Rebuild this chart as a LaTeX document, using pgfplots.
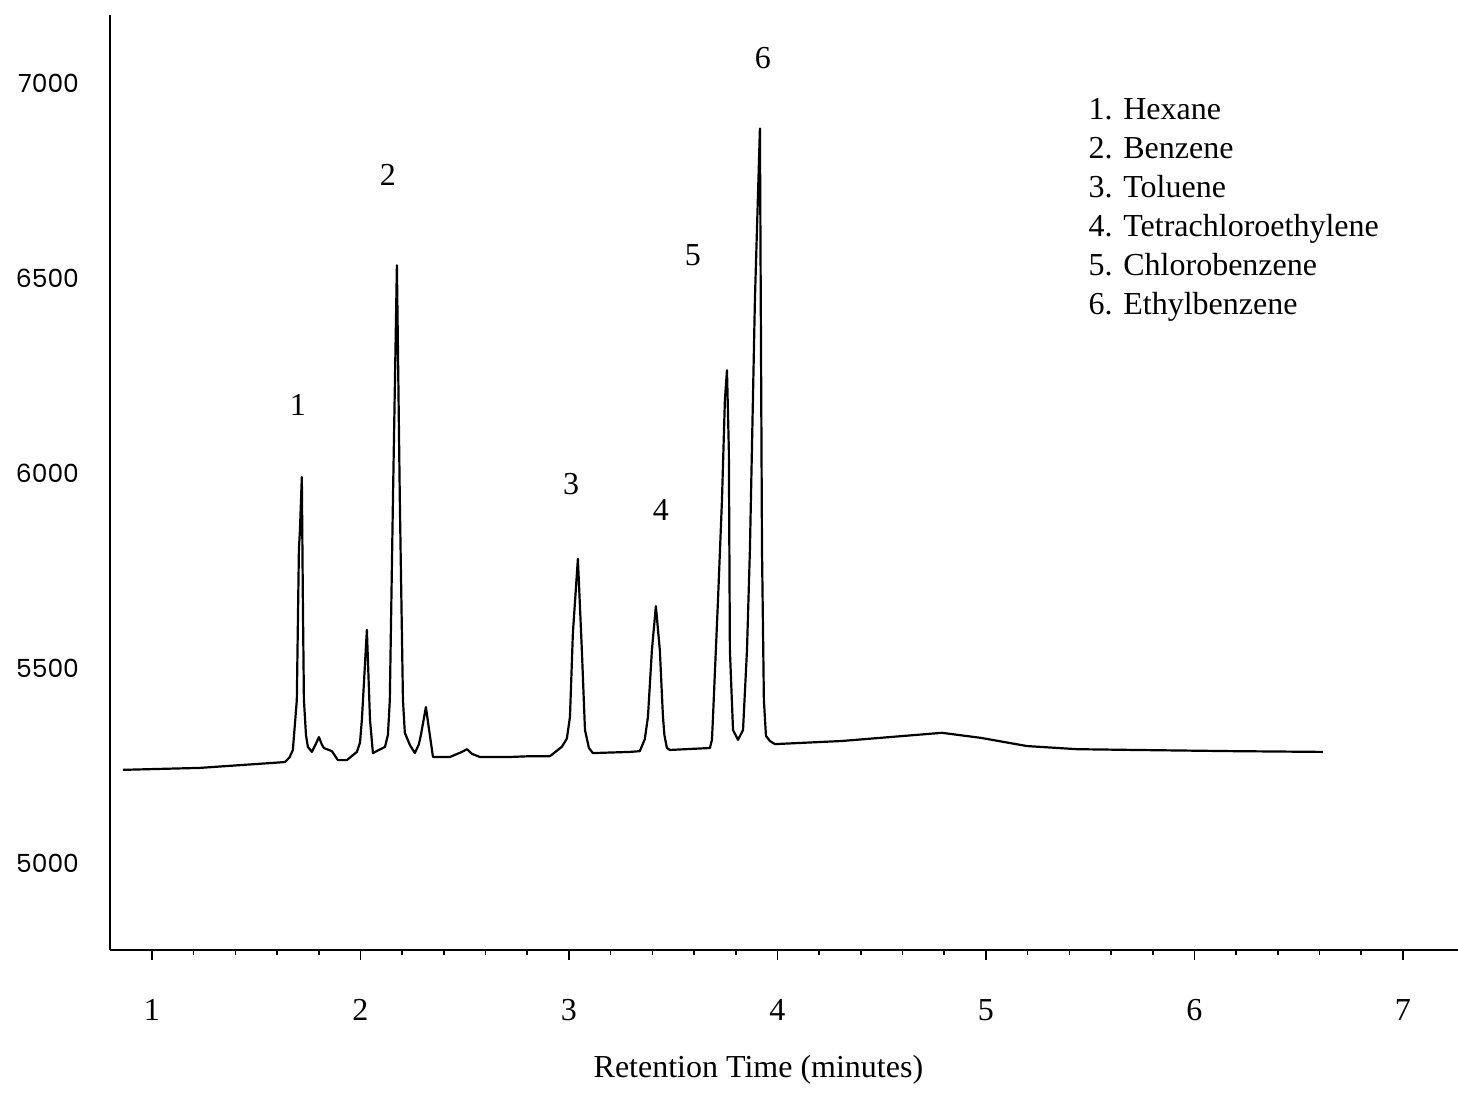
\documentclass[border=0pt]{standalone}
\usepackage{fontspec}
\setmainfont{Liberation Serif}
\newfontfamily\poppins{Poppins}
\usepackage{pgfplots}
\pgfplotsset{compat=1.18}
\begin{document}
\begin{tikzpicture}
\begin{axis}[
  scale only axis, width=674pt, height=467.5pt,
  xmin=0.799, xmax=7.264, ymin=4778, ymax=7176,
  axis lines*=left, axis line style={-, line width=1.3pt},
  xtick={1,2,3,4,5,6,7}, minor x tick num=4, tick align=outside,
  major tick length=5pt, minor tick length=2.5pt,
  every tick/.style={black, line width=0.8pt},
  ytick={5000,5500,6000,6500,7000}, ytick style={draw=none},
  scaled y ticks=false,
  /pgf/number format/assume math mode=true,
  /pgf/number format/1000 sep={},
  xticklabel style={font=\fontsize{16}{19}\selectfont, yshift=-16pt},
  yticklabel style={font=\poppins\fontsize{12.5}{15}\selectfont, xshift=-7pt},
  clip=false,
]
\addplot[black, line width=1.1pt, line join=round] table {
0.861 5240
1.230 5245
1.638 5260
1.660 5272
1.676 5291
1.695 5419
1.705 5804
1.710 5855
1.719 5991
1.724 5676
1.729 5419
1.739 5329
1.748 5299
1.767 5286
1.785 5305
1.801 5324
1.815 5305
1.825 5296
1.863 5288
1.892 5265
1.935 5265
1.983 5286
1.998 5310
2.007 5368
2.031 5599
2.046 5368
2.060 5283
2.118 5299
2.132 5330
2.141 5419
2.156 5932
2.175 6534
2.189 5932
2.204 5419
2.213 5335
2.237 5304
2.261 5283
2.280 5305
2.290 5329
2.314 5401
2.333 5329
2.348 5273
2.429 5273
2.487 5286
2.511 5293
2.535 5281
2.573 5273
2.717 5273
2.813 5275
2.909 5275
2.966 5299
2.990 5320
3.005 5376
3.019 5591
3.043 5781
3.062 5547
3.077 5342
3.096 5296
3.115 5283
3.293 5286
3.340 5288
3.364 5319
3.379 5376
3.398 5547
3.417 5660
3.436 5547
3.451 5376
3.458 5329
3.470 5296
3.484 5291
3.676 5296
3.686 5317
3.691 5376
3.715 5676
3.734 5932
3.748 6188
3.758 6265
3.767 6060
3.772 5547
3.787 5342
3.811 5317
3.835 5342
3.854 5547
3.868 5804
3.892 6445
3.916 6885
3.926 5804
3.935 5419
3.945 5327
3.964 5314
3.988 5306
4.309 5314
4.789 5335
4.976 5322
5.197 5301
5.436 5293
5.715 5291
6.175 5288
6.616 5286
};
\node[font=\fontsize{16}{19}\selectfont] at (axis cs:1.700,6175) {1};
\node[font=\fontsize{16}{19}\selectfont] at (axis cs:2.132,6766) {2};
\node[font=\fontsize{16}{19}\selectfont] at (axis cs:3.010,5973) {3};
\node[font=\fontsize{16}{19}\selectfont] at (axis cs:3.441,5906) {4};
\node[font=\fontsize{16}{19}\selectfont] at (axis cs:3.595,6560) {5};
\node[font=\fontsize{16}{19}\selectfont] at (axis cs:3.930,7065) {6};
\node[font=\fontsize{16}{19.5}\selectfont, anchor=north west, align=left, inner sep=0pt] at (axis cs:5.491,6962) {1. Hexane\\2. Benzene\\3. Toluene\\4. Tetrachloroethylene\\5. Chlorobenzene\\6. Ethylbenzene};
\node[font=\fontsize{16}{19}\selectfont] at ([yshift=-60pt]rel axis cs:0.481,0) {Retention Time (minutes)};
\end{axis}
\pgfresetboundingbox
\path[use as bounding box] ([xshift=-55pt,yshift=-72.5pt]current axis.south west) rectangle ([yshift=7.5pt]current axis.north east);
\end{tikzpicture}
\end{document}
